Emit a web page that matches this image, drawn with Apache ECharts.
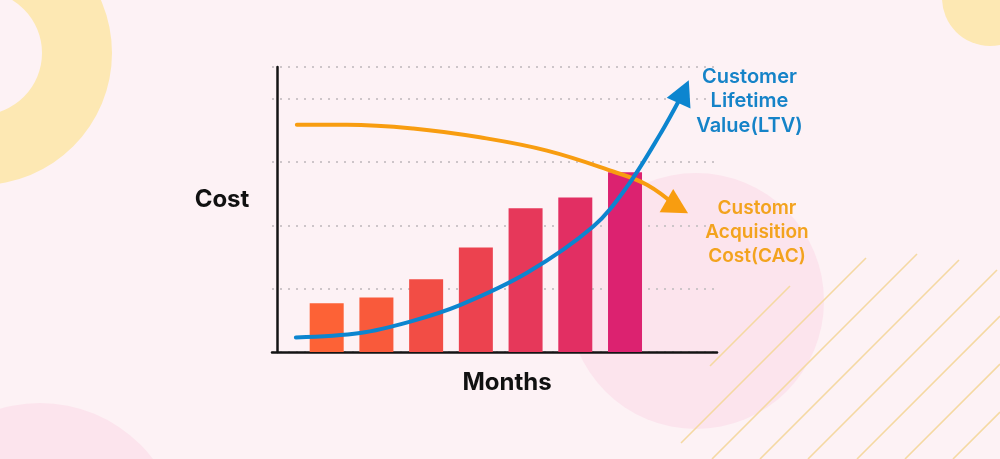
<!DOCTYPE html>
<html><head><meta charset="utf-8">
<script src="https://cdn.jsdelivr.net/npm/echarts@6/dist/echarts.min.js"></script>
<style>html,body{margin:0;padding:0;background:#fdf2f5}#c{width:1000px;height:459px}</style>
</head><body><div id="c"></div>
<script>
// ---- data ----
const months = [1, 2, 3, 4, 5, 6, 7];
const barValues = [0.77, 0.86, 1.15, 1.65, 2.27, 2.44, 2.84];
const barColors = ['#fd6236', '#f95a3b', '#f24d45', '#ec424f', '#e6385a', '#e22f63', '#dc2270'];
const ltvX = [0.38, 1.67, 2.68, 3.68, 5.03, 6.36, 7.04, 7.70, 8.18];
const ltvY = [0.23, 0.30, 0.48, 0.74, 1.25, 1.98, 2.61, 3.43, 4.11];
const cacX = [0.40, 1.41, 2.74, 4.08, 5.43, 6.76, 7.44, 8.05];
const cacY = [3.59, 3.59, 3.53, 3.39, 3.18, 2.85, 2.64, 2.29];
const yTicks = [0, 1, 2, 3, 4];
const yAxisName = 'Cost';
const xAxisName = 'Months';
const ltvLabel = 'Customer\nLifetime\nValue(LTV)';
const cacLabel = 'Customr\nAcquisition\nCost(CAC)';

const FONT = 'Inter, "Noto Sans", sans-serif';
const BLUE = '#0c85cf', ORANGE = '#f89d10';

const chart = echarts.init(document.getElementById('c'), null, {renderer: 'canvas'});

function lineData(xs, ys, color, size, rot) {
  return xs.map((x, i) => {
    const d = {value: [x, ys[i]]};
    if (i === xs.length - 1) {
      d.symbol = 'triangle';
      d.symbolSize = size;
      d.symbolRotate = rot;
      d.itemStyle = {color: color};
    }
    return d;
  });
}

const diag = [[710,366,790,286],[681,443,866,258],[712,459,917,254],[760,459,959,260],
              [808,459,997,270],[857,459,1000,316],[905,459,1000,364],[953,459,1000,412]];

function buildOption(ltvRot, cacRot) {
  return {
    backgroundColor: '#fdf2f5',
    animation: false,
    grid: {left: 272, right: 283, top: 67, bottom: 107},
    xAxis: {
      type: 'value', min: -0.1, max: 8.85,
      axisLine: {show: true, lineStyle: {color: '#141414', width: 2.5}},
      axisTick: {show: false}, axisLabel: {show: false}, splitLine: {show: false}
    },
    yAxis: {
      type: 'value', min: yTicks[0], max: 4.5, interval: 1,
      axisLine: {show: true, lineStyle: {color: '#141414', width: 2.5}},
      axisTick: {show: false}, axisLabel: {show: false},
      splitLine: {show: true, lineStyle: {color: '#cdc5c9', width: 2, type: [2, 6], dashOffset: 0}}
    },
    graphic: [
      {type: 'ring', z: -10, shape: {cx: -20, cy: 53, r: 132, r0: 62}, style: {fill: '#fde8b3'}},
      {type: 'circle', z: -10, shape: {cx: 990, cy: -2, r: 48}, style: {fill: '#fde8b3'}},
      {type: 'circle', z: -10, shape: {cx: 696, cy: 301, r: 128}, style: {fill: '#fce4ed'}},
      {type: 'circle', z: -10, shape: {cx: 40, cy: 545, r: 142}, style: {fill: '#fce4ed'}},
      ...diag.map(d => ({type: 'line', z: -9, shape: {x1: d[0], y1: d[1], x2: d[2], y2: d[3]},
        style: {stroke: '#f5d9a2', lineWidth: 1.6}})),
      {type: 'text', z: 10, x: 222, y: 200, style: {text: yAxisName, font: '700 24px ' + FONT, fill: '#111', align: 'center', verticalAlign: 'middle'}},
      {type: 'text', z: 10, x: 507, y: 383, style: {text: xAxisName, font: '700 24px ' + FONT, fill: '#111', align: 'center', verticalAlign: 'middle'}},
      {type: 'text', z: 10, x: 749.5, y: 101, style: {text: ltvLabel, font: '600 20px ' + FONT, lineHeight: 24.5, fill: '#1583c8', align: 'center', verticalAlign: 'middle'}},
      {type: 'text', z: 10, x: 757, y: 232, style: {text: cacLabel, font: '600 19px ' + FONT, lineHeight: 24, fill: '#f3a31e', align: 'center', verticalAlign: 'middle'}}
    ],
    series: [
      {
        type: 'bar', barWidth: 34, z: 2,
        data: months.map((m, i) => ({value: [m, barValues[i]], itemStyle: {color: barColors[i]}}))
      },
      {
        type: 'line', smooth: 0.4, symbol: 'none', z: 4,
        lineStyle: {color: ORANGE, width: 4, cap: 'round'},
        data: lineData(cacX, cacY, ORANGE, [27, 25], cacRot)
      },
      {
        type: 'line', smooth: 0.35, symbol: 'none', z: 5,
        lineStyle: {color: BLUE, width: 4, cap: 'round'},
        data: lineData(ltvX, ltvY, BLUE, [26, 25], ltvRot)
      }
    ]
  };
}

chart.setOption(buildOption(0, 0));
function rotFor(xs, ys) {
  const n = xs.length;
  const a = chart.convertToPixel({gridIndex: 0}, [xs[n - 2], ys[n - 2]]);
  const b = chart.convertToPixel({gridIndex: 0}, [xs[n - 1], ys[n - 1]]);
  const dx = b[0] - a[0], dy = b[1] - a[1];
  return Math.atan2(-dx, -dy) * 180 / Math.PI;
}
chart.setOption(buildOption(rotFor(ltvX, ltvY) + 5, rotFor(cacX, cacY) + 6));
</script>
</body></html>
